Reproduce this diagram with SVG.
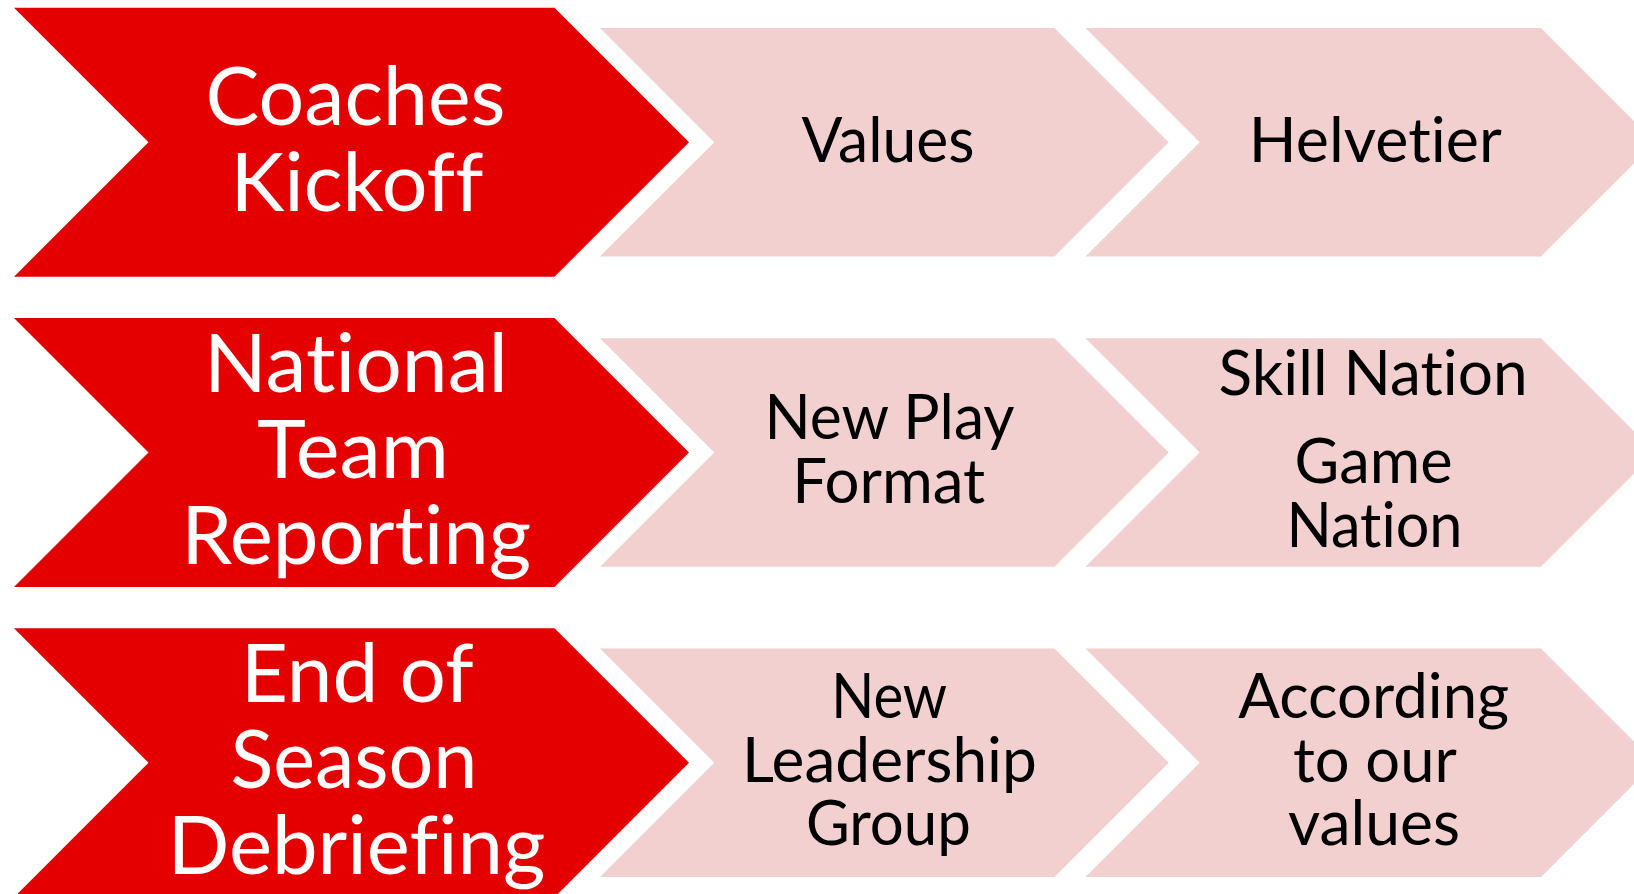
<svg xmlns="http://www.w3.org/2000/svg" width="1634" height="894" viewBox="0 0 1634 894">
<style>
.red{fill:#E40000}
.pink{fill:#F3D0D0}
text{font-variant-ligatures:none;font-feature-settings:"liga" 0,"clig" 0,"dlig" 0}
.tr{font-family:Lato,"Open Sans","Liberation Sans",sans-serif;font-size:82px;fill:#FFFFFF;text-anchor:middle}
.tp{font-family:Lato,"Open Sans","Liberation Sans",sans-serif;font-size:62px;fill:#000000;text-anchor:middle}
</style>
<rect width="1634" height="894" fill="#FFFFFF"/>
<g id="connectors"></g>
<g id="coaches-kickoff">
<polygon class="red" points="14,7.7 554.5,7.7 689,142.2 554.5,276.7 14,276.7 148.5,142.2"/>
<text class="tr" x="355.5" y="125" textLength="300" lengthAdjust="spacingAndGlyphs">Coaches</text>
<text class="tr" x="357" y="210.7" textLength="253" lengthAdjust="spacingAndGlyphs">Kickoff</text>
</g>
<g id="values">
<polygon class="pink" points="600,28 1054.5,28 1168.7,142.2 1054.5,256.4 600,256.4 714.2,142.2"/>
<text class="tp" x="888" y="161.7" textLength="173" lengthAdjust="spacingAndGlyphs">Values</text>
</g>
<g id="helvetier">
<polygon class="pink" points="1085.5,28 1541,28 1655.2,142.2 1541,256.4 1085.5,256.4 1199.7,142.2"/>
<text class="tp" x="1375.3" y="161.7" textLength="253" lengthAdjust="spacingAndGlyphs">Helvetier</text>
</g>
<g id="national-team-reporting">
<polygon class="red" points="14,318 554.5,318 689,452.5 554.5,587 14,587 148.5,452.5"/>
<text class="tr" x="356" y="391.7" textLength="304" lengthAdjust="spacingAndGlyphs">National</text>
<text class="tr" x="353" y="477.7" textLength="192" lengthAdjust="spacingAndGlyphs">Team</text>
<text class="tr" x="356.3" y="564" textLength="350" lengthAdjust="spacingAndGlyphs">Reporting</text>
</g>
<g id="new-play-format">
<polygon class="pink" points="600,338.3 1054.5,338.3 1168.7,452.5 1054.5,566.7 600,566.7 714.2,452.5"/>
<text class="tp" x="889.5" y="439.3" textLength="250" lengthAdjust="spacingAndGlyphs">New Play</text>
<text class="tp" x="888.7" y="503.3" textLength="193" lengthAdjust="spacingAndGlyphs">Format</text>
</g>
<g id="skill-game-nation">
<polygon class="pink" points="1085.5,338.3 1541,338.3 1655.2,452.5 1541,566.7 1085.5,566.7 1199.7,452.5"/>
<text class="tp" x="1373.1" y="395" textLength="309" lengthAdjust="spacingAndGlyphs">Skill Nation</text>
<text class="tp" x="1373.6" y="482.7" textLength="158" lengthAdjust="spacingAndGlyphs">Game</text>
<text class="tp" x="1374.5" y="547.3" textLength="176" lengthAdjust="spacingAndGlyphs">Nation</text>
</g>
<g id="end-of-season-debriefing">
<polygon class="red" points="14,628.3 554.5,628.3 689,762.8 554.5,897.3 14,897.3 148.5,762.8"/>
<text class="tr" x="357.2" y="701.7" textLength="233" lengthAdjust="spacingAndGlyphs">End of</text>
<text class="tr" x="354" y="788.3" textLength="247" lengthAdjust="spacingAndGlyphs">Season</text>
<text class="tr" x="356.5" y="874.3" textLength="378" lengthAdjust="spacingAndGlyphs">Debriefing</text>
</g>
<g id="new-leadership-group">
<polygon class="pink" points="600,648.6 1054.5,648.6 1168.7,762.8 1054.5,877 600,877 714.2,762.8"/>
<text class="tp" x="889.2" y="717.7" textLength="116" lengthAdjust="spacingAndGlyphs">New</text>
<text class="tp" x="889.4" y="782.3" textLength="295" lengthAdjust="spacingAndGlyphs">Leadership</text>
<text class="tp" x="888.4" y="845" textLength="165" lengthAdjust="spacingAndGlyphs">Group</text>
</g>
<g id="according-to-our-values">
<polygon class="pink" points="1085.5,648.6 1541,648.6 1655.2,762.8 1541,877 1085.5,877 1199.7,762.8"/>
<text class="tp" x="1373.7" y="718.3" textLength="271" lengthAdjust="spacingAndGlyphs">According</text>
<text class="tp" x="1374.9" y="782.3" textLength="164" lengthAdjust="spacingAndGlyphs">to our</text>
<text class="tp" x="1374" y="845" textLength="172" lengthAdjust="spacingAndGlyphs">values</text>
</g>
</svg>
